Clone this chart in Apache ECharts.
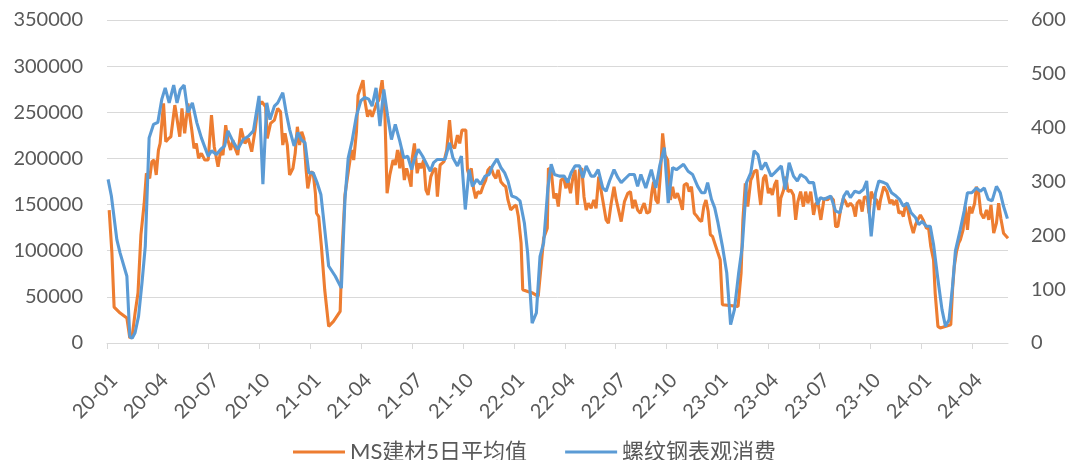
<!DOCTYPE html>
<html><head><meta charset="utf-8">
<script src="https://cdn.jsdelivr.net/npm/echarts@6/dist/echarts.min.js"></script>
<style>html,body{margin:0;padding:0;background:#fff}#c{width:1074px;height:460px}</style>
</head><body><div id="c"></div>
<script>
const seriesNames = ['MS建材5日平均值', '螺纹钢表观消费'];
const tickLabels = ['20-01','20-04','20-07','20-10','21-01','21-04','21-07','21-10','22-01','22-04','22-07','22-10','23-01','23-04','23-07','23-10','24-01','24-04'];

const msDates = [
'2020-01-05','2020-01-10','2020-01-14','2020-01-25','2020-02-06','2020-02-11','2020-02-15','2020-02-20','2020-02-25','2020-03-01',
'2020-03-07','2020-03-11','2020-03-17','2020-03-21','2020-03-25','2020-03-29','2020-04-02','2020-04-05','2020-04-11','2020-04-15',
'2020-04-20','2020-04-24','2020-05-01','2020-05-04','2020-05-10','2020-05-14','2020-05-19','2020-05-25','2020-06-01','2020-06-05',
'2020-06-09','2020-06-13','2020-06-18','2020-06-24','2020-06-30','2020-07-06','2020-07-11','2020-07-18','2020-07-23','2020-07-27',
'2020-08-01','2020-08-05','2020-08-10','2020-08-14','2020-08-17','2020-08-23','2020-08-29','2020-09-05','2020-09-11','2020-09-17',
'2020-09-23','2020-09-28','2020-10-05','2020-10-12','2020-10-15','2020-10-21','2020-10-28','2020-11-03','2020-11-08','2020-11-12',
'2020-11-16','2020-11-20','2020-11-24','2020-11-30','2020-12-04','2020-12-08','2020-12-12','2020-12-16','2020-12-20','2020-12-24',
'2020-12-27','2021-01-02','2021-01-06','2021-01-10','2021-01-12','2021-01-16','2021-01-21','2021-01-27','2021-02-03','2021-02-11',
'2021-02-22','2021-02-25','2021-03-02','2021-03-09','2021-03-14','2021-03-18','2021-03-23','2021-03-26','2021-03-31','2021-04-04',
'2021-04-07','2021-04-12','2021-04-16','2021-04-20','2021-04-23','2021-04-28','2021-05-02','2021-05-08','2021-05-13','2021-05-17',
'2021-05-22','2021-05-28','2021-06-01','2021-06-05','2021-06-09','2021-06-12','2021-06-17','2021-06-21','2021-06-25','2021-06-29',
'2021-07-01','2021-07-05','2021-07-10','2021-07-14','2021-07-17','2021-07-22','2021-07-26','2021-07-30','2021-08-04','2021-08-09',
'2021-08-13','2021-08-16','2021-08-21','2021-08-28','2021-09-02','2021-09-07','2021-09-11','2021-09-16','2021-09-21','2021-09-25',
'2021-09-29','2021-10-02','2021-10-06','2021-10-09','2021-10-12','2021-10-16','2021-10-20','2021-10-24','2021-10-28','2021-11-02',
'2021-11-07','2021-11-11','2021-11-15','2021-11-20','2021-11-25','2021-11-29','2021-12-03','2021-12-08','2021-12-13','2021-12-17',
'2021-12-21','2021-12-26','2022-01-01','2022-01-05','2022-01-09','2022-01-14','2022-01-17','2022-01-26','2022-02-04','2022-02-13',
'2022-02-18','2022-02-22','2022-02-28','2022-03-02','2022-03-07','2022-03-12','2022-03-16','2022-03-20','2022-03-25','2022-03-30',
'2022-04-03','2022-04-06','2022-04-11','2022-04-15','2022-04-19','2022-04-23','2022-04-27','2022-05-01','2022-05-05','2022-05-09',
'2022-05-13','2022-05-18','2022-05-23','2022-05-27','2022-06-01','2022-06-05','2022-06-10','2022-06-14','2022-06-18','2022-06-23',
'2022-06-28','2022-07-02','2022-07-05','2022-07-11','2022-07-17','2022-07-23','2022-07-28','2022-08-01','2022-08-05','2022-08-10',
'2022-08-15','2022-08-19','2022-08-22','2022-08-27','2022-09-01','2022-09-05','2022-09-08','2022-09-12','2022-09-16','2022-09-20',
'2022-09-24','2022-09-28','2022-10-03','2022-10-08','2022-10-12','2022-10-16','2022-10-21','2022-10-26','2022-10-30','2022-11-02',
'2022-11-07','2022-11-11','2022-11-15','2022-11-20','2022-11-25','2022-11-29','2022-12-03','2022-12-07','2022-12-11','2022-12-15',
'2022-12-19','2022-12-23','2022-12-27','2023-01-01','2023-01-06','2023-01-10','2023-02-07','2023-02-12','2023-02-15','2023-02-19',
'2023-02-23','2023-02-28','2023-03-03','2023-03-06','2023-03-11','2023-03-15','2023-03-18','2023-03-23','2023-03-27','2023-04-01',
'2023-04-04','2023-04-08','2023-04-12','2023-04-16','2023-04-20','2023-04-23','2023-04-28','2023-05-02','2023-05-06','2023-05-11',
'2023-05-16','2023-05-20','2023-05-24','2023-05-29','2023-06-03','2023-06-07','2023-06-11','2023-06-16','2023-06-21','2023-06-25',
'2023-06-29','2023-07-04','2023-07-10','2023-07-16','2023-07-22','2023-07-27','2023-07-31','2023-08-04','2023-08-09','2023-08-14',
'2023-08-18','2023-08-22','2023-08-27','2023-09-01','2023-09-05','2023-09-08','2023-09-13','2023-09-17','2023-09-21','2023-09-26',
'2023-09-29','2023-10-03','2023-10-08','2023-10-13','2023-10-17','2023-10-20','2023-10-26','2023-11-01','2023-11-06','2023-11-10',
'2023-11-13','2023-11-18','2023-11-22','2023-11-26','2023-11-30','2023-12-04','2023-12-08','2023-12-13','2023-12-18','2023-12-22',
'2023-12-26','2023-12-31','2024-01-05','2024-01-11','2024-01-15','2024-01-19','2024-01-24','2024-01-27','2024-02-01','2024-02-05',
'2024-02-23','2024-02-26','2024-02-29','2024-03-04','2024-03-08','2024-03-11','2024-03-16','2024-03-20','2024-03-24','2024-03-28',
'2024-04-01','2024-04-06','2024-04-09','2024-04-13','2024-04-17','2024-04-22','2024-04-27','2024-05-01','2024-05-05','2024-05-10',
'2024-05-15','2024-05-19','2024-05-23','2024-05-28','2024-06-05'];
const msValues = [
144000,97300,38900,32400,27000,5400,7200,32400,54100,117200,
151400,183900,178400,196500,198300,182100,209100,216300,259600,218100,
221700,223500,257800,246900,223500,254200,227100,259600,230700,210900,
216300,200100,205500,198300,198300,246900,212700,191100,209100,203700,
236100,219900,209100,219900,212700,203700,232500,216300,221700,207300,
230700,256000,261400,256000,221700,237900,241500,254200,250500,214500,
227100,214500,182100,189300,205500,234300,214500,228900,221700,187500,
167600,185700,183900,162200,140600,137000,104500,57700,18000,23400,
34200,97300,160400,189300,209100,198300,228900,268600,277600,284800,
263200,245100,252400,245100,250500,259600,263200,284800,248700,162200,
182100,198300,192900,209100,189300,210900,176600,189300,180300,169400,
200100,216300,183900,194700,189300,198300,165800,160400,180300,187500,
189300,158600,192900,196500,209100,241500,214500,210900,225300,216300,
230700,232500,230700,187500,182100,189300,167600,156800,164000,162200,
171200,176600,187500,191100,182100,178400,187500,174800,171200,169400,
155000,144200,147800,149600,137000,108200,57700,55900,54100,50500,
84700,113600,124400,189300,187500,156800,162200,147800,176600,178400,
167600,178400,162200,178400,187500,149600,187500,189300,158600,144200,
151400,146000,155000,146000,180300,165800,147800,133400,129800,151400,
169400,155000,156800,131600,153200,162200,164000,146000,155000,144200,
140600,147800,151400,140600,142400,164000,174800,155000,151400,182100,
227100,203700,198300,155000,169400,156800,162200,153200,144200,171200,
173000,164000,169400,140600,137000,133400,131600,147800,155000,142400,
117200,115400,108200,99100,90100,41500,39700,75700,133400,173000,
147800,176600,180300,185700,187500,164000,149600,178400,182100,162200,
167600,160400,171200,176600,137000,156800,165800,180300,164000,165800,
160400,133400,153200,164000,147800,164000,151400,164000,138800,151400,
151400,133400,156800,155000,158600,155000,126200,126200,144200,156800,
153200,147800,151400,147800,137000,151400,155000,142400,158600,156800,
140600,164000,156800,155000,144200,155000,169400,164000,151400,155000,
149600,155000,140600,142400,137000,151400,144200,129800,119000,128000,
133400,138800,133400,124400,124400,104500,90100,54100,18000,16200,
19800,57700,82900,99100,108200,111800,122600,147800,122600,147800,
140600,151400,169400,162200,140600,135200,144200,133400,149600,119000,
129800,151400,135200,119000,113600];

const rebarDates = [
'2020-01-03','2020-01-09','2020-01-19','2020-01-25','2020-02-06','2020-02-11','2020-02-15','2020-02-20','2020-02-26','2020-03-03',
'2020-03-09','2020-03-16','2020-03-24','2020-04-01','2020-04-08','2020-04-14','2020-04-21','2020-04-29','2020-05-05','2020-05-11',
'2020-05-18','2020-05-25','2020-06-02','2020-06-10','2020-06-18','2020-06-30','2020-07-06','2020-07-15','2020-07-23','2020-07-30',
'2020-08-05','2020-08-14','2020-08-23','2020-09-02','2020-09-11','2020-09-20','2020-09-30','2020-10-07','2020-10-14','2020-10-20',
'2020-10-28','2020-11-03','2020-11-12','2020-11-18','2020-11-24','2020-12-02','2020-12-09','2020-12-15','2020-12-22','2020-12-29',
'2021-01-06','2021-01-13','2021-01-20','2021-01-27','2021-02-03','2021-02-14','2021-02-24','2021-03-02','2021-03-08','2021-03-15',
'2021-03-23','2021-03-31','2021-04-07','2021-04-14','2021-04-20','2021-04-27','2021-05-04','2021-05-11','2021-05-18','2021-05-25',
'2021-06-01','2021-06-09','2021-06-16','2021-06-23','2021-06-30','2021-07-05','2021-07-12','2021-07-20','2021-07-29','2021-08-03',
'2021-08-09','2021-08-16','2021-08-30','2021-09-07','2021-09-13','2021-09-21','2021-09-28','2021-10-05','2021-10-12','2021-10-18',
'2021-10-26','2021-11-02','2021-11-10','2021-11-17','2021-11-23','2021-12-01','2021-12-08','2021-12-15','2021-12-21','2021-12-28',
'2022-01-05','2022-01-12','2022-01-20','2022-01-26','2022-02-03','2022-02-10','2022-02-16','2022-02-22','2022-03-01','2022-03-07',
'2022-03-13','2022-03-22','2022-03-31','2022-04-06','2022-04-12','2022-04-19','2022-04-27','2022-05-03','2022-05-09','2022-05-18',
'2022-05-24','2022-05-31','2022-06-08','2022-06-14','2022-06-20','2022-06-28','2022-07-05','2022-07-11','2022-07-20','2022-07-26',
'2022-08-04','2022-08-10','2022-08-16','2022-08-25','2022-09-04','2022-09-12','2022-09-19','2022-09-27','2022-10-04','2022-10-12',
'2022-10-19','2022-11-01','2022-11-09','2022-11-17','2022-11-26','2022-12-03','2022-12-09','2022-12-14','2022-12-21','2022-12-27',
'2023-01-02','2023-01-10','2023-01-18','2023-01-25','2023-02-01','2023-02-08','2023-02-14','2023-02-21','2023-02-28','2023-03-06',
'2023-03-13','2023-03-19','2023-03-27','2023-04-06','2023-04-12','2023-04-24','2023-05-01','2023-05-08','2023-05-16','2023-05-23',
'2023-05-29','2023-06-07','2023-06-13','2023-06-21','2023-06-28','2023-07-03','2023-07-10','2023-07-22','2023-07-31','2023-08-08',
'2023-08-15','2023-08-21','2023-08-27','2023-09-04','2023-09-12','2023-09-19','2023-09-25','2023-10-03','2023-10-11','2023-10-17',
'2023-10-26','2023-11-01','2023-11-09','2023-11-17','2023-11-23','2023-11-30','2023-12-07','2023-12-14','2023-12-22','2023-12-28',
'2024-01-03','2024-01-11','2024-01-18','2024-01-24','2024-02-01','2024-02-08','2024-02-14','2024-02-20','2024-02-26','2024-03-02',
'2024-03-11','2024-03-18','2024-03-24','2024-04-01','2024-04-09','2024-04-16','2024-04-23','2024-04-30','2024-05-07','2024-05-15',
'2024-05-22','2024-05-28','2024-06-04'];
const rebarValues = [
304,273,192,167,124,12,9,19,50,112,
180,381,406,410,453,474,446,479,446,471,
479,428,446,409,381,347,357,350,360,366,
394,375,360,378,384,394,459,295,446,415,
440,446,465,428,397,366,391,378,372,316,
316,298,276,211,143,124,102,267,344,375,
422,450,456,453,440,474,403,471,422,378,
406,375,344,347,322,341,360,347,329,319,
335,341,341,372,344,329,347,248,322,291,
304,295,310,313,329,342,326,316,301,273,
270,264,223,167,37,56,161,186,288,332,
313,310,310,298,316,329,329,307,329,310,
310,322,288,282,301,322,307,298,307,313,
313,291,313,288,322,288,330,363,260,326,
322,332,319,313,291,279,279,298,267,251,
223,180,130,34,62,130,180,298,316,357,
350,322,335,310,316,329,285,335,310,301,
313,307,298,298,257,270,267,273,245,242,
273,282,270,282,279,285,301,198,279,301,
298,295,279,273,267,254,260,242,233,220,
226,217,217,183,118,62,31,43,105,171,
211,245,279,279,288,282,288,267,264,291,
279,254,231];

function monthIndex(s) {
  const p = s.split('-').map(Number);
  const dim = new Date(p[0], p[1], 0).getDate();
  return (p[0] - 2020) * 12 + (p[1] - 1) + (p[2] - 1) / dim;
}
function labelMonth(l) { const p = l.split('-').map(Number); return (p[0] - 20) * 12 + (p[1] - 1); }
const tickPos = tickLabels.map(labelMonth);
const labelMap = {}; tickLabels.forEach((l, i) => { labelMap[tickPos[i]] = l; });

const msData = msDates.map((d, i) => [monthIndex(d), msValues[i]]);
const rebarData = rebarDates.map((d, i) => [monthIndex(d), rebarValues[i]]);

const FONT = 'Lato, "Noto Sans CJK SC", sans-serif';
const TXT = '#595959';
const chart = echarts.init(document.getElementById('c'), null, { renderer: 'canvas' });
chart.setOption({
  animation: false,
  backgroundColor: '#fff',
  grid: { left: 107, right: 66, top: 20, bottom: 117 },
  legend: {
    data: seriesNames, left: 288, top: 436, icon: 'rect', itemWidth: 52, itemHeight: 3, itemGap: 38,
    textStyle: { fontSize: 22, color: TXT, fontFamily: FONT }
  },
  xAxis: {
    type: 'value', min: 0, max: 'dataMax',
    axisLine: { lineStyle: { color: '#D9D9D9', width: 1 } },
    axisTick: { show: true, length: 6, customValues: tickPos, lineStyle: { color: '#D9D9D9' } },
    splitLine: { show: false },
    axisLabel: {
      customValues: tickPos, rotate: 45, margin: 27, verticalAlign: 'top',
      fontSize: 20, color: TXT, fontFamily: FONT,
      formatter: v => labelMap[Math.round(v)] || ''
    }
  },
  yAxis: [
    {
      type: 'value', min: 0, max: 350000, interval: 50000,
      axisLine: { show: false }, axisTick: { show: false },
      splitLine: { lineStyle: { color: '#D9D9D9', width: 1 } },
      axisLabel: { margin: 24, fontSize: 20, color: TXT, fontFamily: FONT, formatter: v => String(v) }
    },
    {
      type: 'value', min: 0, max: 600, interval: 100, position: 'right',
      axisLine: { show: false }, axisTick: { show: false }, splitLine: { show: false },
      axisLabel: { margin: 23, fontSize: 20, color: TXT, fontFamily: FONT, formatter: v => String(v) }
    }
  ],
  series: [
    { name: seriesNames[0], type: 'line', yAxisIndex: 0, data: msData, showSymbol: false,
      lineStyle: { color: '#ED7D31', width: 3.1 }, itemStyle: { color: '#ED7D31' } },
    { name: seriesNames[1], type: 'line', yAxisIndex: 1, data: rebarData, showSymbol: false,
      lineStyle: { color: '#5B9BD5', width: 3.1 }, itemStyle: { color: '#5B9BD5' } }
  ]
});
</script></body></html>
